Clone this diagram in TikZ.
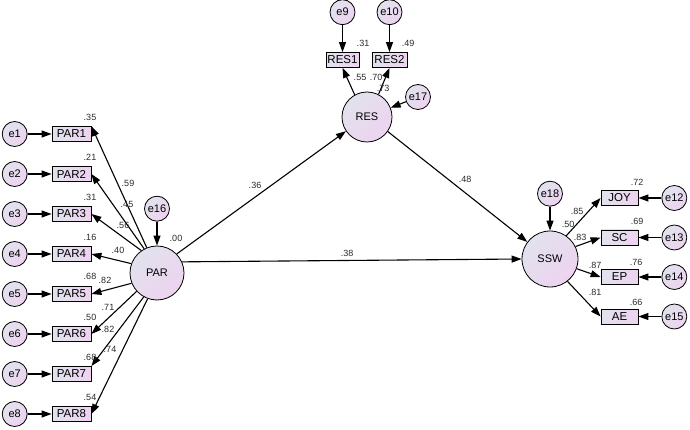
\documentclass[tikz,border=0pt]{standalone}
\usepackage{fontspec}
\setmainfont{Liberation Sans}
\usetikzlibrary{shapes, arrows.meta, positioning}
\definecolor{lavA}{HTML}{E2E2EE}
\definecolor{lavB}{HTML}{EDD3EF}
\definecolor{ink}{HTML}{2A2A2A}

\begin{document}
\begin{tikzpicture}[x=1pt, y=-1pt, line width=1.1pt, >={Triangle[length=10pt,width=7pt]},
		elem/.style={draw,line width=0.8pt,rectangle,minimum width=39pt,minimum height=15pt,inner sep=1pt,font=\fontsize{11.5}{12}\selectfont,left color=lavA,right color=lavB},
		circ/.style={draw,line width=0.8pt,circle,minimum size=54pt,inner sep=0pt,font=\fontsize{11}{12}\selectfont,top color=lavA,bottom color=lavB,shading angle=45},
		err/.style={draw,line width=0.8pt,circle,minimum size=25pt,inner sep=0pt,font=\fontsize{11}{12}\selectfont,top color=lavA,bottom color=lavB,shading angle=45},
		lab/.style={font=\fontsize{9}{10}\selectfont,text=ink,inner sep=1pt}]
		\useasboundingbox (0,0) rectangle (690,430);
		% latent factors
		\node (par) [circ] at (157,273) {PAR};
		\node (res) [circ, minimum size=50pt] at (367,117) {RES};
		\node (ssw) [circ, minimum size=56pt] at (550,259) {SSW};
		% PAR indicators
		\node (par1) [elem] at (71.5,134) {PAR1};
		\node (par2) [elem] at (71.5,174) {PAR2};
		\node (par3) [elem] at (71.5,214) {PAR3};
		\node (par4) [elem] at (71.5,254) {PAR4};
		\node (par5) [elem] at (71.5,294) {PAR5};
		\node (par6) [elem] at (71.5,334) {PAR6};
		\node (par7) [elem] at (71.5,374) {PAR7};
		\node (par8) [elem] at (71.5,414) {PAR8};
		\node (e1) [err, left=24pt of par1] {e1};
		\node (e2) [err, left=24pt of par2] {e2};
		\node (e3) [err, left=24pt of par3] {e3};
		\node (e4) [err, left=24pt of par4] {e4};
		\node (e5) [err, left=24pt of par5] {e5};
		\node (e6) [err, left=24pt of par6] {e6};
		\node (e7) [err, left=24pt of par7] {e7};
		\node (e8) [err, left=24pt of par8] {e8};
		\node (e16) [err, above=24pt of par] {e16};
		% RES indicators
		\node (res1) [elem, minimum width=33pt] at (342.5,60) {RES1};
		\node (res2) [elem, minimum width=35pt] at (389.5,60) {RES2};
		\node (e9) [err, above=27pt of res1] {e9};
		\node (e10) [err, above=27pt of res2] {e10};
		\node (e17) [err] at (418,97) {e17};
		% SSW indicators
		\node (joy) [elem, minimum width=37pt] at (619.5,198) {JOY};
		\node (sc) [elem, minimum width=37pt] at (619.5,237.5) {SC};
		\node (ep) [elem, minimum width=37pt] at (619.5,277) {EP};
		\node (ae) [elem, minimum width=37pt] at (619.5,316.5) {AE};
		\node (e12) [err, right=23pt of joy] {e12};
		\node (e13) [err, right=23pt of sc] {e13};
		\node (e14) [err, right=23pt of ep] {e14};
		\node (e15) [err, right=23pt of ae] {e15};
		\node (e18) [err, above=24pt of ssw] {e18};
		% errors
		\draw [->] (e1) -- (par1);
		\draw [->] (e2) -- (par2);
		\draw [->] (e3) -- (par3);
		\draw [->] (e4) -- (par4);
		\draw [->] (e5) -- (par5);
		\draw [->] (e6) -- (par6);
		\draw [->] (e7) -- (par7);
		\draw [->] (e8) -- (par8);
		\draw [->] (e9) -- (res1);
		\draw [->] (e10) -- (res2);
		\draw [->] (e12) -- (joy);
		\draw [->] (e13) -- (sc);
		\draw [->] (e14) -- (ep);
		\draw [->] (e15) -- (ae);
		\draw [->] (e16) -- (par);
		\draw [->] (e17) -- (res);
		\draw [->] (e18) -- (ssw);
		% loadings
		\draw [->] (par.112) -- (par1.north east);
		\draw [->] (par.118) -- (par2.east);
		\draw [->] (par.125) -- (par3.east);
		\draw [->] (par.160) -- (par4.east);
		\draw [->] (par.202) -- (par5.east);
		\draw [->] (par.222) -- (par6.east);
		\draw [->] (par.241) -- (par7.north east);
		\draw [->] (par.250) -- (par8.east);
		\draw [->] (res.119) -- (res1.south);
		\draw [->] (res.63) -- (res2.south);
		\draw [->] (ssw.55) -- (joy.west);
		\draw [->] (ssw.26) -- (sc.west);
		\draw [->] (ssw.-20) -- (ep.west);
		\draw [->] (ssw.-52) -- (ae.west);
		% paths
		\draw [->] (par.44) -- (res.214);
		\draw [->] (par.24) -- (ssw.west);
		\draw [->] (res.-35) -- (ssw.143);
		% squared multiple correlations
		\node (r1) [lab] at (90,117) {.35};
		\node (r2) [lab] at (90,157) {.21};
		\node (r3) [lab] at (90,197) {.31};
		\node (r4) [lab] at (90,237) {.16};
		\node (r5) [lab] at (90,276) {.68};
		\node (r6) [lab] at (90,317) {.50};
		\node (r7) [lab] at (90,357) {.68};
		\node (r8) [lab] at (90,397) {.54};
		\node (r9) [lab] at (363,43) {.31};
		\node (r10) [lab] at (408,43) {.49};
		\node (r12) [lab] at (637,182) {.72};
		\node (r13) [lab] at (637,221) {.69};
		\node (r14) [lab] at (636,262) {.76};
		\node (r15) [lab] at (636,302) {.66};
		\node (rpar) [lab] at (176,238) {.00};
		\node (rres) [lab] at (383,88) {.73};
		\node (rssw) [lab] at (568,224) {.50};
		% loading values
		\node (l1) [lab] at (128,183) {.59};
		\node (l2) [lab] at (127,204) {.45};
		\node (l3) [lab] at (123,225) {.56};
		\node (l4) [lab] at (118,250) {.40};
		\node (l5) [lab] at (105,280) {.82};
		\node (l6) [lab] at (108,307) {.71};
		\node (l7) [lab] at (108,329) {.82};
		\node (l8) [lab] at (110,349) {.74};
		\node (l9) [lab] at (360,77) {.55};
		\node (l10) [lab] at (376,77) {.70};
		\node (l12) [lab] at (577,211) {.85};
		\node (l13) [lab] at (580,237) {.83};
		\node (l14) [lab] at (595,265) {.87};
		\node (l15) [lab] at (595,292) {.81};
		% path values
		\node (b1) [lab] at (255,185) {.36};
		\node (b2) [lab] at (465,179) {.48};
		\node (b3) [lab] at (347,253) {.38};
	\end{tikzpicture}
\end{document}
